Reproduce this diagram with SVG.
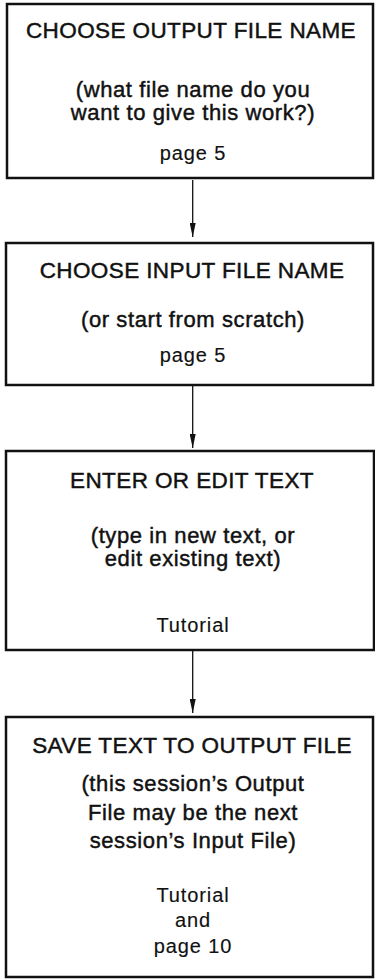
<svg xmlns="http://www.w3.org/2000/svg" width="375" height="979" viewBox="0 0 375 979">
<style>
.box{fill:#fff;stroke:#111;stroke-width:2.5}
text{font-family:"Liberation Sans",Arial,sans-serif;fill:#111;stroke:#111;stroke-width:0.45;text-anchor:middle}
.h{font-size:22.5px;letter-spacing:0.4px}
.b{font-size:22px;letter-spacing:0.6px}
.s{font-size:20px;letter-spacing:0.9px;stroke-width:0.15}
.conn{stroke:#111;stroke-width:1.3;fill:none}
</style>
<defs>
<marker id="arr" viewBox="0 0 14 6" refX="14" refY="3" markerWidth="14" markerHeight="6" markerUnits="userSpaceOnUse" orient="auto">
<path d="M0,0 L14,3 L0,6 Z" fill="#111"/>
</marker>
</defs>
<rect width="375" height="979" fill="#fff"/>
<g id="connectors">
<line class="conn" x1="192.7" y1="180" x2="192.7" y2="237" marker-end="url(#arr)"/>
<line class="conn" x1="192.7" y1="386" x2="192.7" y2="448" marker-end="url(#arr)"/>
<line class="conn" x1="192.7" y1="651" x2="192.7" y2="713" marker-end="url(#arr)"/>
</g>
<g id="n1">
<rect class="box" x="7" y="4" width="366" height="174"/>
<text class="h" x="191" y="38">CHOOSE OUTPUT FILE NAME</text>
<text class="b" x="193" y="97">(what file name do you</text>
<text class="b" x="193" y="120">want to give this work?)</text>
<text class="s" x="193" y="160">page 5</text>
</g>
<g id="n2">
<rect class="box" x="6" y="243" width="367" height="142"/>
<text class="h" x="192" y="278">CHOOSE INPUT FILE NAME</text>
<text class="b" x="193" y="327">(or start from scratch)</text>
<text class="s" x="193" y="362">page 5</text>
</g>
<g id="n3">
<rect class="box" x="6" y="451" width="368" height="199"/>
<text class="h" x="192" y="488">ENTER OR EDIT TEXT</text>
<text class="b" x="193" y="543">(type in new text, or</text>
<text class="b" x="193" y="566">edit existing text)</text>
<text class="s" x="193" y="632">Tutorial</text>
</g>
<g id="n4">
<rect class="box" x="6" y="717" width="367" height="260"/>
<text class="h" x="192" y="753">SAVE TEXT TO OUTPUT FILE</text>
<text class="b" x="193" y="791">(this session’s Output</text>
<text class="b" x="193" y="820">File may be the next</text>
<text class="b" x="193" y="848">session’s Input File)</text>
<text class="s" x="193" y="902">Tutorial</text>
<text class="s" x="193" y="927">and</text>
<text class="s" x="193" y="953">page 10</text>
</g>
</svg>
